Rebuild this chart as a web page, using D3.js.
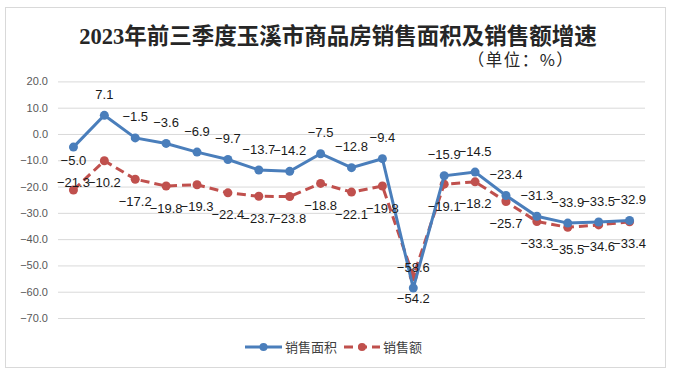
<!DOCTYPE html>
<html><head><meta charset="utf-8">
<script src="https://cdn.jsdelivr.net/npm/d3@7"></script>
<style>html,body{margin:0;padding:0;background:#fff;}svg{display:block;}</style>
</head><body>
<svg id="chart" width="673" height="373"></svg>
<script>
const categories = ["1","2","3","4","5","6","7","8","9","10","11","12","13","14","15","16","17","18","19"];
const areaGrowth = [-5.0, 7.1, -1.5, -3.6, -6.9, -9.7, -13.7, -14.2, -7.5, -12.8, -9.4, -58.6, -15.9, -14.5, -23.4, -31.3, -33.9, -33.5, -32.9];
const amountGrowth = [-21.3, -10.2, -17.2, -19.8, -19.3, -22.4, -23.7, -23.8, -18.8, -22.1, -19.8, -54.2, -19.1, -18.2, -25.7, -33.3, -35.5, -34.6, -33.4];
const yTicks = [20, 10, 0, -10, -20, -30, -40, -50, -60, -70];
const seriesNames = ["销售面积", "销售额"];
const titleText = "2023年前三季度玉溪市商品房销售面积及销售额增速";
const subtitleText = "（单位：%）";

const svg = d3.select("#chart");
const pLeft = 58, pRight = 645, pTop = 81.4, pBottom = 318;
const blue = "#4a7ebb", red = "#c0504d";

// frame
svg.append("rect").attr("x", 5.5).attr("y", 7.5).attr("width", 660).attr("height", 360)
  .attr("fill", "#fff").attr("stroke", "#d9d9d9").attr("stroke-width", 1);

const x = d3.scaleBand().domain(categories).range([pLeft, pRight]);
const y = d3.scaleLinear().domain([-70, 20]).range([pBottom, pTop]);
const cx = d => x(d) + x.bandwidth() / 2;

// title
svg.append("text").attr("x", 338).attr("y", 44).attr("text-anchor", "middle")
  .attr("font-family", "'Liberation Serif','Noto Sans CJK SC'").attr("font-weight", "bold")
  .attr("font-size", 22.5).attr("fill", "#262626").text(titleText);
svg.append("text").attr("x", 521).attr("y", 66).attr("text-anchor", "middle")
  .attr("font-family", "'Noto Sans CJK SC'").attr("font-size", 16.5).attr("fill", "#262626")
  .attr("letter-spacing", 1.5)
  .text(subtitleText);

// grid + y axis
const yAxis = d3.axisLeft(y).tickValues(yTicks).tickSize(-(pRight - pLeft)).tickPadding(10)
  .tickFormat(d3.format(".1f"));
const gy = svg.append("g").attr("transform", `translate(${pLeft},0)`).call(yAxis);
gy.select(".domain").remove();
gy.selectAll(".tick line").attr("stroke", "#d9d9d9").attr("stroke-width", 1);
gy.selectAll(".tick text").attr("font-family", "'Liberation Sans',Arial,sans-serif")
  .attr("font-size", 11).attr("fill", "#595959").attr("x", -10);

const line = d3.line().x((d, i) => cx(categories[i])).y(d => y(d));

// red series (dashed)
svg.append("path").datum(amountGrowth).attr("d", line).attr("fill", "none")
  .attr("stroke", red).attr("stroke-width", 3).attr("stroke-dasharray", "9,5");
svg.selectAll(".rdot").data(amountGrowth).enter().append("circle")
  .attr("cx", (d, i) => cx(categories[i])).attr("cy", d => y(d)).attr("r", 4.5).attr("fill", red);

// blue series
svg.append("path").datum(areaGrowth).attr("d", line).attr("fill", "none")
  .attr("stroke", blue).attr("stroke-width", 3);
svg.selectAll(".bdot").data(areaGrowth).enter().append("circle")
  .attr("cx", (d, i) => cx(categories[i])).attr("cy", d => y(d)).attr("r", 4.5).attr("fill", blue);

// labels: area above, amount below (first category swapped as in the original)
const fmt = d3.format(".1f");
const labelFont = "'Liberation Sans',Arial,sans-serif";
function labels(data, cls, defDy, firstDy) {
  svg.selectAll("." + cls).data(data).enter().append("text").attr("class", cls)
    .attr("x", (d, i) => cx(categories[i]))
    .attr("y", (d, i) => y(d) + (i === 0 ? firstDy : defDy))
    .attr("dy", "0.35em").attr("text-anchor", "middle")
    .attr("font-family", labelFont).attr("font-size", 13).attr("fill", "#1a1a1a")
    .text(d => fmt(d));
}
labels(areaGrowth, "blab", -21, 13);
labels(amountGrowth, "rlab", 22, -8);

// legend
const lg = svg.append("g").attr("transform", "translate(0,347)");
lg.append("line").attr("x1", 245).attr("x2", 282).attr("stroke", blue).attr("stroke-width", 3);
lg.append("circle").attr("cx", 263.5).attr("r", 4).attr("fill", blue);
lg.append("text").attr("x", 285).attr("dy", "0.35em").attr("font-family", "'Noto Sans CJK SC'")
  .attr("font-size", 13).attr("fill", "#404040").text(seriesNames[0]);
lg.append("line").attr("x1", 344).attr("x2", 380).attr("stroke", red).attr("stroke-width", 3)
  .attr("stroke-dasharray", "9,5");
lg.append("circle").attr("cx", 362).attr("r", 4).attr("fill", red);
lg.append("text").attr("x", 383).attr("dy", "0.35em").attr("font-family", "'Noto Sans CJK SC'")
  .attr("font-size", 13).attr("fill", "#404040").text(seriesNames[1]);
</script>
</body></html>
